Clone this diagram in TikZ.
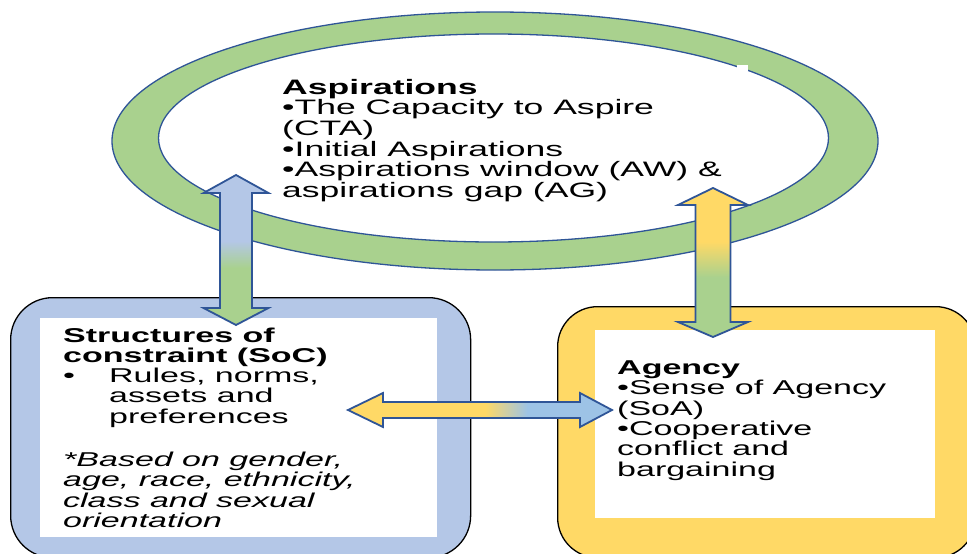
\documentclass[tikz,border=0pt]{standalone}
\usepackage{fontspec}
\setmainfont{Liberation Sans}[FakeStretch=1.7]
\usetikzlibrary{calc}

\definecolor{ringgreen}{HTML}{A9D18E}
\definecolor{socblue}{HTML}{B4C7E7}
\definecolor{agencyyellow}{HTML}{FFD966}
\definecolor{linkblue}{HTML}{9DC3E6}
\definecolor{edgeblue}{HTML}{2F5597}

% Arrow fills (the path's bounding box sits on 25bp--75bp).
\pgfdeclareverticalshading{socshade}{100bp}{color(0bp)=(ringgreen); color(44bp)=(ringgreen); color(53bp)=(socblue); color(100bp)=(socblue)}
\pgfdeclareverticalshading{agencyshade}{100bp}{color(0bp)=(ringgreen); color(45bp)=(ringgreen); color(57bp)=(agencyyellow); color(100bp)=(agencyyellow)}
\pgfdeclarehorizontalshading{linkshade}{100bp}{color(0bp)=(agencyyellow); color(51bp)=(agencyyellow); color(59bp)=(linkblue); color(100bp)=(linkblue)}

\begin{document}
\begin{tikzpicture}[x=1pt, y=-1pt,
  frame/.style = {rectangle, draw=black, line width=1.3pt, anchor=north west, inner sep=0pt},
  pane/.style = {rectangle, fill=white, anchor=north west, inner sep=0pt},
  block/.style = {anchor=north west, inner sep=0pt, align=left, font=\fontsize{20pt}{20.3pt}\selectfont},
  link/.style = {shade, draw=edgeblue, line width=1.8pt, line join=miter}]
  \useasboundingbox (0, 0) rectangle (967, 554);

  % Ring around the aspirations.
  \fill [ringgreen, even odd rule]
        (495, 141) ellipse [x radius=383, y radius=129]
        (493.5, 138) ellipse [x radius=335, y radius=104];
  \draw [edgeblue, line width=1.3pt] (495, 141) ellipse [x radius=383, y radius=129];
  \draw [edgeblue, line width=1.3pt] (493.5, 138) ellipse [x radius=335, y radius=104];
  \fill [white] (737, 65) rectangle (748, 71);

  % Boxes.
  \node at (10, 297) [frame, fill=socblue, rounded corners=42pt, minimum width=460pt, minimum height=260pt, name=SoCFrame] {};
  \node at (40, 318) [pane, minimum width=397pt, minimum height=219pt, name=SoCPane] {};
  \node at (557, 306) [frame, fill=agencyyellow, rounded corners=40pt, minimum width=418pt, minimum height=251pt, name=AgencyFrame] {};
  \node at (595, 330) [pane, minimum width=340pt, minimum height=188pt, name=AgencyPane] {};

  % Texts.
  \node at (282, 79) [block, font=\fontsize{20.9pt}{20.6pt}\selectfont, name=Aspirations] {\textbf{Aspirations}\\
    •The Capacity to Aspire\\
    (CTA)\\
    •Initial Aspirations\\
    •Aspirations window (AW) \&\\
    aspirations gap (AG)};
  \node at (63, 327.4) [block, name=SoC] {\textbf{Structures of}\\
    \textbf{constraint (SoC)}\\
    \makebox[46pt][l]{•}Rules, norms,\\
    \hspace*{46pt}assets and\\
    \hspace*{46pt}preferences\\[23pt]
    \textit{*Based on gender,}\\
    \textit{age, race, ethnicity,}\\
    \textit{class and sexual}\\
    \textit{orientation}};
  \node at (617, 360.7) [block, name=Agency] {\textbf{Agency}\\
    •Sense of Agency\\
    (SoA)\\
    •Cooperative\\
    conflict and\\
    bargaining};

  % Arrow tips.
  \coordinate (AspToSoC) at (236, 175);
  \coordinate (SoCFromAsp) at (236, 325);
  \coordinate (AspToAgency) at (713, 188);
  \coordinate (AgencyFromAsp) at (713, 337);
  \coordinate (SoCFromAgency) at (348, 410);
  \coordinate (AgencyFromSoC) at (612, 410);

  % Double block arrows.
  \draw [link, shading=socshade]
        (AspToSoC) -- ++(32.5, 18) -- ++(-16.5, 0)
        -- ($(SoCFromAsp)+(16, -17)$) -- ++(16.5, 0) -- (SoCFromAsp)
        -- ++(-32.5, -17) -- ++(16.5, 0)
        -- ($(AspToSoC)+(-16, 18)$) -- ++(-16.5, 0) -- cycle;
  \draw [link, shading=agencyshade]
        (AspToAgency) -- ++(35, 17) -- ++(-17.5, 0)
        -- ($(AgencyFromAsp)+(17.5, -15)$) -- ++(17.5, 0) -- (AgencyFromAsp)
        -- ++(-35, -15) -- ++(17.5, 0)
        -- ($(AspToAgency)+(-17.5, 17)$) -- ++(-17.5, 0) -- cycle;
  \draw [link, shading=linkshade]
        (SoCFromAgency) -- ++(35, -17) -- ++(0, 9)
        -- ($(AgencyFromSoC)+(-32, -8)$) -- ++(0, -9) -- (AgencyFromSoC)
        -- ++(-32, 17) -- ++(0, -9)
        -- ($(SoCFromAgency)+(35, 8)$) -- ++(0, 9) -- cycle;
\end{tikzpicture}
\end{document}
